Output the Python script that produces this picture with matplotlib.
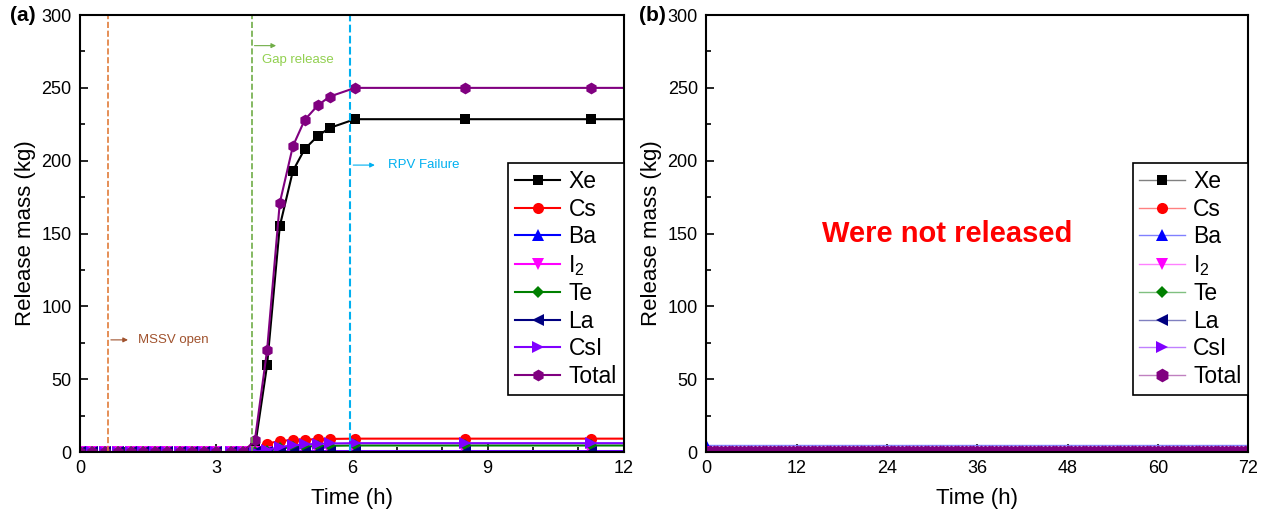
import numpy as np
import matplotlib

matplotlib.use('Agg')
import matplotlib.pyplot as plt
from matplotlib.ticker import MultipleLocator

plt.rcParams['font.family'] = ['Liberation Sans', 'DejaVu Sans']
plt.rcParams['mathtext.fontset'] = 'custom'
plt.rcParams['mathtext.rm'] = 'Liberation Sans'
plt.rcParams['mathtext.it'] = 'Liberation Sans:italic'

# ---- (a) time points (h); last point = right edge
time_a = [0, 0.26, 0.55, 0.84, 1.12, 1.39, 1.65, 1.92, 2.21, 2.47, 2.73, 3.0, 3.33, 3.6,
          3.86, 4.13, 4.41, 4.70, 4.96, 5.25, 5.51, 6.07, 8.49, 11.27, 12.0]
zeros14 = [0] * 14
xe_a = zeros14 + [3, 59.7, 155, 193, 208, 217, 222.5, 228.5, 228.5, 228.5, 228.5]
cs_a = zeros14 + [0.5, 5.8, 7.6, 8.3, 8.6, 8.8, 9.0, 9.2, 9.2, 9.2, 9.2]
ba_a = zeros14 + [0, 0.2, 0.4, 0.5, 0.6, 0.6, 0.7, 0.7, 0.7, 0.7, 0.7]
i2_a = zeros14 + [0, 0.1, 0.2, 0.3, 0.3, 0.3, 0.3, 0.3, 0.3, 0.3, 0.3]
te_a = zeros14 + [0.1, 1.0, 2.5, 3.3, 3.8, 4.1, 4.3, 4.5, 4.5, 4.5, 4.5]
la_a = zeros14 + [0, 0, 0, 0, 0, 0, 0, 0, 0, 0, 0]
csi_a = zeros14 + [0.2, 1.5, 3.5, 4.6, 5.2, 5.6, 5.9, 6.1, 6.1, 6.1, 6.1]
total_a = zeros14 + [8, 70, 171, 210, 228, 238, 244, 250, 250, 250, 250]

# ---- (b) nothing released over 72 h
time_b = np.arange(0, 72.01, 0.5)
flat_b = np.zeros_like(time_b)
ba_b = np.full_like(time_b, 4.5)

species = ['Xe', 'Cs', 'Ba', 'I$_2$', 'Te', 'La', 'CsI', 'Total']
colors = ['black', 'red', 'blue', 'magenta', 'green', 'navy', '#8000FF', 'purple']
light = ['#808080', '#FF8080', '#8080FF', '#FF80FF', '#80C080', '#8080C0', '#C080FF', '#C080C0']
markers = ['s', 'o', '^', 'v', 'D', '<', '>', 'h']
msizes = [7, 8, 8, 8, 6.5, 8, 8, 8.5]
series_a = [xe_a, cs_a, ba_a, i2_a, te_a, la_a, csi_a, total_a]
series_b = [flat_b, flat_b, ba_b, flat_b, flat_b, flat_b, flat_b, flat_b]

# event times (h)
t_mssv = 0.62
t_gap = 3.79
t_rpv = 5.97

fig = plt.figure(figsize=(12.7, 5.19), dpi=100)
ax1 = fig.add_axes([0.063, 0.129, 0.428, 0.842])
ax2 = fig.add_axes([0.556, 0.129, 0.427, 0.842])

n_a = len(time_a)
for s, c, m, ms, lab in zip(series_a, colors, markers, msizes, species):
    ax1.plot(time_a, s, color=c, marker=m, markersize=ms, linewidth=1.5,
             markeredgewidth=0, label=lab, markevery=list(range(n_a - 1)))

for s, c, lc, m, ms, lab in zip(series_b, colors, light, markers, msizes, species):
    every = 1 if lab == 'Total' else (0, 100000)
    ax2.plot(time_b, s, color=lc, marker=m, markersize=ms, linewidth=1.0,
             markerfacecolor=c, markeredgecolor=c, markeredgewidth=1.2 if lab == 'Total' else 0,
             label=lab, markevery=every)

# event lines and annotations
ax1.axvline(t_mssv, color='#E07B39', linestyle='--', linewidth=1.2)
ax1.axvline(t_gap, color='#70AD47', linestyle='--', linewidth=1.2)
ax1.axvline(t_rpv, color='#00B0F0', linestyle='--', linewidth=1.5)

ax1.annotate('', xy=(t_mssv + 0.5, 77), xytext=(t_mssv, 77),
             arrowprops=dict(arrowstyle='-|>', color='#A0522D', lw=0.8, mutation_scale=7))
ax1.text(t_mssv + 0.65, 77, 'MSSV open', color='#A0522D', fontsize=9.5, va='center')
ax1.annotate('', xy=(t_gap + 0.6, 279), xytext=(t_gap, 279),
             arrowprops=dict(arrowstyle='-|>', color='#70AD47', lw=0.8, mutation_scale=7))
ax1.text(t_gap + 0.22, 269, 'Gap release', color='#92D050', fontsize=9.5, va='center')
ax1.annotate('', xy=(t_rpv + 0.6, 197), xytext=(t_rpv, 197),
             arrowprops=dict(arrowstyle='-|>', color='#00B0F0', lw=0.8, mutation_scale=7))
ax1.text(t_rpv + 0.83, 197, 'RPV Failure', color='#00B0F0', fontsize=9.5, va='center')

ax2.text(32, 150, 'Were not released', color='red', fontsize=21, fontweight='bold',
         ha='center', va='center')

for ax, xmax, xmaj, xmin in [(ax1, 12, 3, 1), (ax2, 72, 12, None)]:
    ax.set_xlim(0, xmax)
    ax.set_ylim(0, 300)
    ax.xaxis.set_major_locator(MultipleLocator(xmaj))
    if xmin:
        ax.xaxis.set_minor_locator(MultipleLocator(xmin))
    ax.yaxis.set_major_locator(MultipleLocator(50))
    ax.yaxis.set_minor_locator(MultipleLocator(25))
    ax.tick_params(which='both', direction='in', labelsize=13, width=1.2)
    ax.tick_params(which='major', length=6, pad=6)
    ax.tick_params(which='minor', length=3.5)
    ax.tick_params(axis='y', which='both', right=False)
    ax.tick_params(axis='x', which='both', top=False)
    for sp in ax.spines.values():
        sp.set_linewidth(1.5)
    ax.set_xlabel('Time (h)', fontsize=16, labelpad=8)
    ax.set_ylabel('Release mass (kg)', fontsize=16, labelpad=4)
    leg = ax.legend(loc='upper right', bbox_to_anchor=(1.0, 0.661), borderaxespad=0,
                    fontsize=16.5, frameon=True, fancybox=False, framealpha=1,
                    edgecolor='black', handlelength=2.0, handletextpad=0.35,
                    labelspacing=0.2, borderpad=0.3)
    leg.get_frame().set_linewidth(1.2)

fig.text(0.008, 0.971, '(a)', fontsize=15, fontweight='bold', va='center')
fig.text(0.503, 0.971, '(b)', fontsize=15, fontweight='bold', va='center')

fig.savefig('out.png', dpi=100)
